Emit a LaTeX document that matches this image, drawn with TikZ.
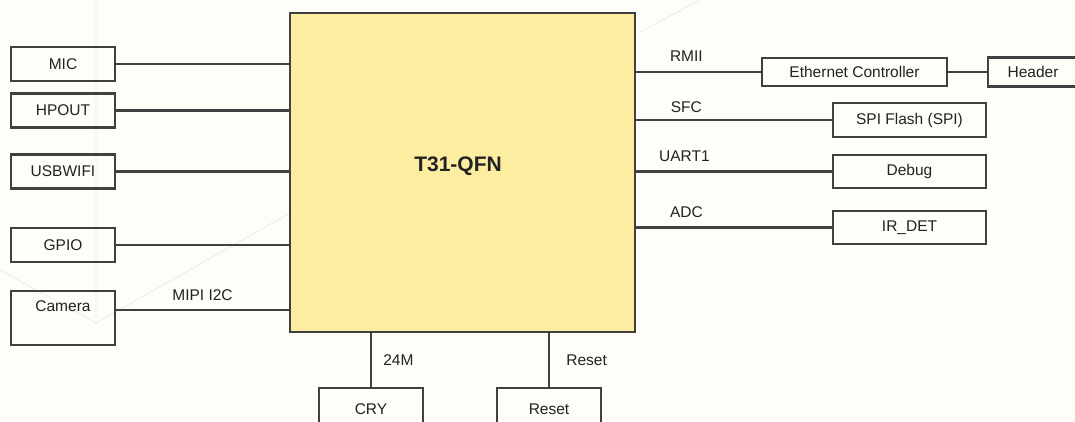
\documentclass[tikz,border=0pt]{standalone}
\usepackage{fontspec}
\setmainfont{Liberation Sans}
\usetikzlibrary{calc, positioning}
\definecolor{chipfill}{HTML}{FDEDA0}
\definecolor{edge}{HTML}{404040}
\definecolor{paper}{HTML}{FFFDF7}
\definecolor{faint}{HTML}{DCEFF7}
\definecolor{ink}{HTML}{222222}
\tikzstyle{line} = [draw=edge, line width=2.7pt]
\tikzstyle{block} = [rectangle, draw=edge, line width=2.8pt, text centered, minimum width=104pt, minimum height=34pt, inner sep=0pt]
\tikzstyle{chip} = [rectangle, draw=edge, line width=2.8pt, fill=chipfill, minimum width=345pt, minimum height=319pt]
\tikzstyle{sig} = [inner sep=0pt, anchor=base]

\begin{document}
\begin{tikzpicture}[x=1pt, y=-1pt, font=\fontsize{15.5}{18}\selectfont, text=ink]
\fill[paper] (0,0) rectangle (1075,421);
\useasboundingbox (0,0) rectangle (1075,421);
% faint lines of the background
\draw[faint, line width=0.8pt] (96,0) -- (96,323) -- (290,213);
\draw[faint, line width=0.8pt] (0,270) -- (96,323);
\draw[faint, line width=0.8pt] (640,32) -- (700,0);
\node [chip] (soc) at (462.5,172.5) {};
\node [font=\fontsize{21}{25}\selectfont\bfseries] (soctext) at (458,166) {T31-QFN};
% left side
\node [block] (mic) at (63,64) {MIC};
\node [block] (hpout) at (63,110.5) {HPOUT};
\node [block] (usbwifi) at (63,171.5) {USBWIFI};
\node [block] (gpio) at (63,245) {GPIO};
\node [block, minimum height=54pt] (camera) at (63,318) {};
\node [inner sep=0pt, below=11pt of camera.north] (cameratext) {Camera};
\path [line] (mic) -- (mic -| soc.west);
\path [line] (hpout) -- (hpout -| soc.west);
\path [line] (usbwifi) -- (usbwifi -| soc.west);
\path [line] (gpio) -- (gpio -| soc.west);
\coordinate (mipi) at ($(camera.east)+(0,-8)$);
\path [line] (mipi) -- (mipi -| soc.west) node [sig, midway, yshift=9.5pt] {MIPI I2C};
% right side
\node [block, minimum width=185pt, minimum height=28pt] (eth) at (854.5,72) {Ethernet Controller};
\node [block, minimum width=90pt, minimum height=29pt] (header) at (1033,72) {Header};
\node [block, minimum width=153pt] (flash) at (909.5,120) {SPI Flash (SPI)};
\node [block, minimum width=153pt, minimum height=33pt] (debug) at (909.5,171.5) {Debug};
\node [block, minimum width=153pt, minimum height=33pt] (irdet) at (909.5,227.5) {IR\_DET};
\path [line] (soc.east |- eth) -- (eth) node [sig, pos=0, xshift=50pt, yshift=10.5pt] {RMII};
\path [line] (eth) -- (header);
\path [line] (soc.east |- flash) -- (flash) node [sig, pos=0, xshift=50pt, yshift=8pt] {SFC};
\path [line] (soc.east |- debug) -- (debug) node [sig, pos=0, xshift=48pt, yshift=10.5pt] {UART1};
\path [line] (soc.east |- irdet) -- (irdet) node [sig, pos=0, xshift=50pt, yshift=10.5pt] {ADC};
% bottom
\node [block, minimum height=42pt] (cry) at (371,409) {CRY};
\node [block, minimum height=42pt] (rst) at (549,409) {Reset};
\path [line] (soc.south -| cry) -- (cry) node [inner sep=0pt, midway, right=11pt] {24M};
\path [line] (soc.south -| rst) -- (rst) node [inner sep=0pt, midway, right=16pt] {Reset};
\end{tikzpicture}
\end{document}
